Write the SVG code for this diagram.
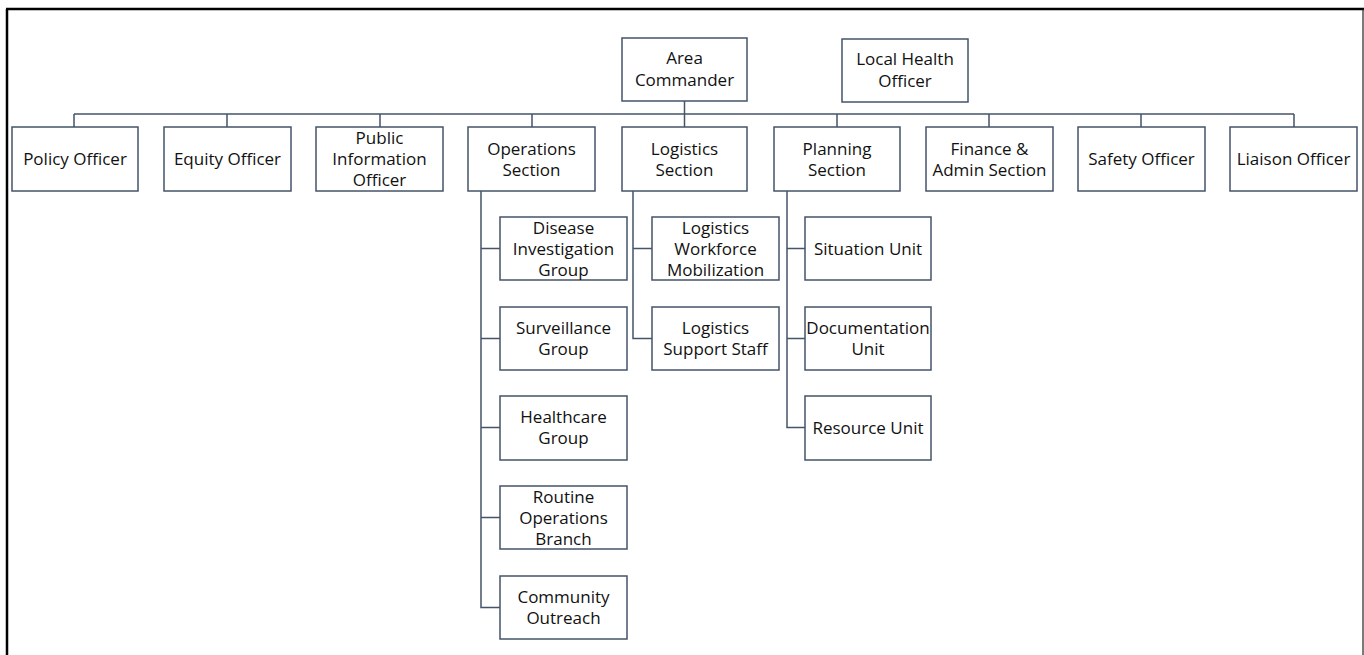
<svg xmlns="http://www.w3.org/2000/svg" width="1364" height="655" viewBox="0 0 1364 655">
<style>
.box{fill:#fff;stroke:#44546A;stroke-width:1.5}
.t{font-family:"Open Sans","Noto Sans","Liberation Sans",sans-serif;font-size:17px;fill:#111;text-anchor:middle}
.c{fill:none;stroke:#44546A;stroke-width:1.5}
</style>
<rect x="0" y="0" width="1364" height="655" fill="#fff"/>
<g id="frame">
<line x1="7" y1="9" x2="7" y2="655" stroke="#000" stroke-width="2.5"/>
<line x1="6" y1="9" x2="1364" y2="9" stroke="#000" stroke-width="2.5"/>
<line x1="1363" y1="9" x2="1363" y2="655" stroke="#222" stroke-width="1.2"/>
</g>
<g id="connectors">
<path class="c" d="M74 114H1294"/>
<path class="c" d="M74 114V127M227 114V127M380 114V127M532 114V127M837 114V127M989 114V127M1141 114V127M1294 114V127"/>
<path class="c" d="M684.5 101V127" stroke-width="2"/>
<path class="c" d="M481 191V607.5H500M481 248.5H500M481 338.5H500M481 427.5H500M481 517.5H500"/>
<path class="c" d="M633 191V338.5H652M633 248.5H652"/>
<path class="c" d="M787 191V427.5H805M787 248.5H805M787 338.5H805"/>
</g>
<g id="area-commander"><rect class="box" x="622" y="38" width="125" height="63"/><text class="t" x="684.5" y="64">Area</text><text class="t" x="684.5" y="86">Commander</text></g>
<g id="local-health-officer"><rect class="box" x="842" y="39" width="126" height="63"/><text class="t" x="905" y="65">Local Health</text><text class="t" x="905" y="87">Officer</text></g>
<g id="policy-officer"><rect class="box" x="12" y="127" width="126" height="64"/><text class="t" x="75" y="165">Policy Officer</text></g>
<g id="equity-officer"><rect class="box" x="164" y="127" width="127" height="64"/><text class="t" x="227.5" y="165">Equity Officer</text></g>
<g id="public-information-officer"><rect class="box" x="316" y="127" width="127" height="64"/><text class="t" x="379.5" y="144">Public</text><text class="t" x="379.5" y="165">Information</text><text class="t" x="379.5" y="186">Officer</text></g>
<g id="operations-section"><rect class="box" x="468" y="127" width="127" height="64"/><text class="t" x="531.5" y="154.5">Operations</text><text class="t" x="531.5" y="175.5">Section</text></g>
<g id="logistics-section"><rect class="box" x="622" y="127" width="125" height="64"/><text class="t" x="684.5" y="154.5">Logistics</text><text class="t" x="684.5" y="175.5">Section</text></g>
<g id="planning-section"><rect class="box" x="774" y="127" width="126" height="64"/><text class="t" x="837" y="154.5">Planning</text><text class="t" x="837" y="175.5">Section</text></g>
<g id="finance-admin-section"><rect class="box" x="926" y="127" width="127" height="64"/><text class="t" x="989.5" y="154.5">Finance &amp;</text><text class="t" x="989.5" y="175.5">Admin Section</text></g>
<g id="safety-officer"><rect class="box" x="1078" y="127" width="127" height="64"/><text class="t" x="1141.5" y="165">Safety Officer</text></g>
<g id="liaison-officer"><rect class="box" x="1230" y="127" width="127" height="64"/><text class="t" x="1293.5" y="165">Liaison Officer</text></g>
<g id="disease-investigation-group"><rect class="box" x="500" y="217" width="127" height="63"/><text class="t" x="563.5" y="234">Disease</text><text class="t" x="563.5" y="255">Investigation</text><text class="t" x="563.5" y="276">Group</text></g>
<g id="surveillance-group"><rect class="box" x="500" y="307" width="127" height="63"/><text class="t" x="563.5" y="334">Surveillance</text><text class="t" x="563.5" y="355">Group</text></g>
<g id="healthcare-group"><rect class="box" x="500" y="396" width="127" height="64"/><text class="t" x="563.5" y="423">Healthcare</text><text class="t" x="563.5" y="444">Group</text></g>
<g id="routine-operations-branch"><rect class="box" x="500" y="486" width="127" height="63"/><text class="t" x="563.5" y="503">Routine</text><text class="t" x="563.5" y="524">Operations</text><text class="t" x="563.5" y="545">Branch</text></g>
<g id="community-outreach"><rect class="box" x="500" y="576" width="127" height="63"/><text class="t" x="563.5" y="603">Community</text><text class="t" x="563.5" y="624">Outreach</text></g>
<g id="logistics-workforce-mobilization"><rect class="box" x="652" y="217" width="127" height="63"/><text class="t" x="715.5" y="234">Logistics</text><text class="t" x="715.5" y="255">Workforce</text><text class="t" x="715.5" y="276">Mobilization</text></g>
<g id="logistics-support-staff"><rect class="box" x="652" y="307" width="127" height="63"/><text class="t" x="715.5" y="334">Logistics</text><text class="t" x="715.5" y="355">Support Staff</text></g>
<g id="situation-unit"><rect class="box" x="805" y="217" width="126" height="63"/><text class="t" x="868" y="255">Situation Unit</text></g>
<g id="documentation-unit"><rect class="box" x="805" y="307" width="126" height="63"/><text class="t" x="868" y="334">Documentation</text><text class="t" x="868" y="355">Unit</text></g>
<g id="resource-unit"><rect class="box" x="805" y="396" width="126" height="64"/><text class="t" x="868" y="434">Resource Unit</text></g>
</svg>
